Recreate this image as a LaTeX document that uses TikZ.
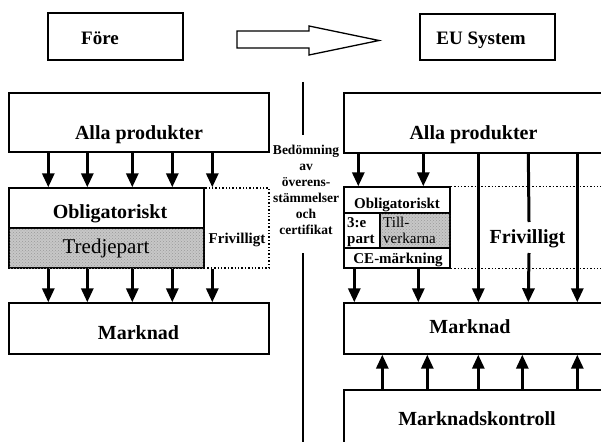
\documentclass[tikz,border=0pt]{standalone}
\usepackage{fontspec}
\setmainfont{Liberation Serif}
\usetikzlibrary{arrows.meta,fit,patterns}
\begin{document}
\begin{tikzpicture}[x=1pt,y=-1pt,
  box/.style={draw, line width=1.4pt, inner sep=0pt},
  dbox/.style={draw, dotted, line width=1.4pt, inner sep=0pt},
  grayfill/.style={fill=black!22, postaction={pattern=crosshatch dots, pattern color=black!40}},
  big/.style={font=\bfseries\fontsize{20}{22}\selectfont, inner sep=0pt, anchor=base},
  head/.style={font=\bfseries\fontsize{19}{21}\selectfont, inner sep=0pt, anchor=base},
  small/.style={font=\bfseries\fontsize{15}{16}\selectfont, inner sep=0pt, anchor=base},
  arr/.style={line width=3pt, -{Triangle[length=14pt,width=12pt]}},
  plain/.style={line width=3pt},
  cline/.style={line width=1.4pt},
  dline/.style={dotted, line width=1.4pt}]
\clip (0,0) rectangle (601,441);
\fill[white] (0,0) rectangle (601,441);

% header
\node[box, fit={(48,13) (183,60)}] (fore) {};
\node[head] (foret) at (100,45) {Före};
\node[box, fit={(420,14) (555,60)}] (eu) {};
\node[head] (eut) at (481,45) {EU System};
\draw[line width=1.3pt] (237,31) -- (309,31) -- (309,26) -- (379,40.5) -- (309,55) -- (309,48) -- (237,48) -- cycle;

% center divider
\coordinate (c1) at (303,82);
\coordinate (c2) at (303,135);
\coordinate (c3) at (303,253);
\coordinate (c4) at (303,445);
\draw[cline] (c1) -- (c2);
\draw[cline] (c3) -- (c4);
\node[font=\bfseries\fontsize{13.5}{16}\selectfont, align=center, inner sep=0pt] (bed) at (306,190)
  {Bedömning\\av\\överens-\\stämmelser\\och\\certifikat};

% ---------- left side ----------
\node[box, fit={(9,93) (269,152)}] (la) {};
\node[big] at (139,139) {Alla produkter};

\node[dbox, fit={(204,188) (269,268)}] (lf) {};
\node[box, fit={(9,188) (204,228)}] (lo) {};
\node[box, grayfill, fit={(9,228) (204,268)}] (lt) {};
\node[big] at (110,218) {Obligatoriskt};
\node[font=\fontsize{21}{23}\selectfont, inner sep=0pt, anchor=base] at (106,253) {Tredjepart};
\node[small] at (237,243) {Frivilligt};

\node[box, fit={(9,303) (269,354)}] (lm) {};
\node[big] at (138.5,339) {Marknad};

\foreach \o in {40,79,124,164}{
  \draw[arr] ([xshift=\o pt]la.south west) -- ([xshift=\o pt]lo.north west);
  \draw[arr] ([xshift=\o pt]lt.south west) -- ([xshift=\o pt]lm.north west);
}
\draw[arr] ([xshift=204pt]la.south west) -- ([xshift=9pt]lf.north west);
\draw[arr] ([xshift=9pt]lf.south west) -- ([xshift=204pt]lm.north west);

% ---------- right side ----------
\node[box, fit={(344,93) (640,153)}] (ra) {};
\node[big] at (473.5,139) {Alla produkter};

\node[box, fit={(344,187) (450,213)}] (ro) {};
\node[box, fit={(344,213) (380,248)}] (rp) {};
\node[box, grayfill, fit={(380,213) (450,248)}] (rv) {};
\node[box, fit={(344,248) (450,268)}] (rc) {};
\node[small] at (397,208) {Obligatoriskt};
\node[font=\bfseries\fontsize{15}{16}\selectfont, inner sep=0pt, anchor=base west] at (347,227) {3:e};
\node[font=\bfseries\fontsize{15}{16}\selectfont, inner sep=0pt, anchor=base west] at (347,243) {part};
\node[font=\fontsize{15}{16}\selectfont, inner sep=0pt, anchor=base west] at (383,227) {Till-};
\node[font=\fontsize{15}{16}\selectfont, inner sep=0pt, anchor=base west] at (383,243) {verkarna};
\node[small] at (398,263) {CE-märkning};
\draw[dline] (ro.north east) -- ++(170,0);
\draw[dline] (rc.south east) -- ++(170,0);
\node[big] (rf) at (527.5,243) {Frivilligt};

\node[box, fit={(344,303) (640,354)}] (rm) {};
\node[big] at (470,333) {Marknad};
\node[box, fit={(344,390) (640,460)}] (rk) {};
\node[big] at (477,425) {Marknadskontroll};

\draw[arr] ([xshift=15pt]ra.south west) -- ([xshift=15pt]ro.north west);
\draw[arr] ([xshift=80pt]ra.south west) -- ([xshift=80pt]ro.north west);
\draw[arr] ([xshift=11pt]rc.south west) -- ([xshift=11pt]rm.north west);
\draw[arr] ([xshift=75pt]rc.south west) -- ([xshift=75pt]rm.north west);
\draw[arr] ([xshift=135pt]ra.south west) -- ([xshift=135pt]rm.north west);
\draw[arr] ([xshift=234pt]ra.south west) -- ([xshift=234pt]rm.north west);
\coordinate (g1) at (529,222);
\coordinate (g2) at (529,253);
\draw[plain] ([xshift=185pt]ra.south west) -- (g1);
\draw[arr] (g2) -- ([xshift=185pt]rm.north west);

\foreach \o in {39,84,135,179,234}{
  \draw[arr] ([xshift=\o pt]rk.north west) -- ([xshift=\o pt]rm.south west);
}
\end{tikzpicture}
\end{document}
